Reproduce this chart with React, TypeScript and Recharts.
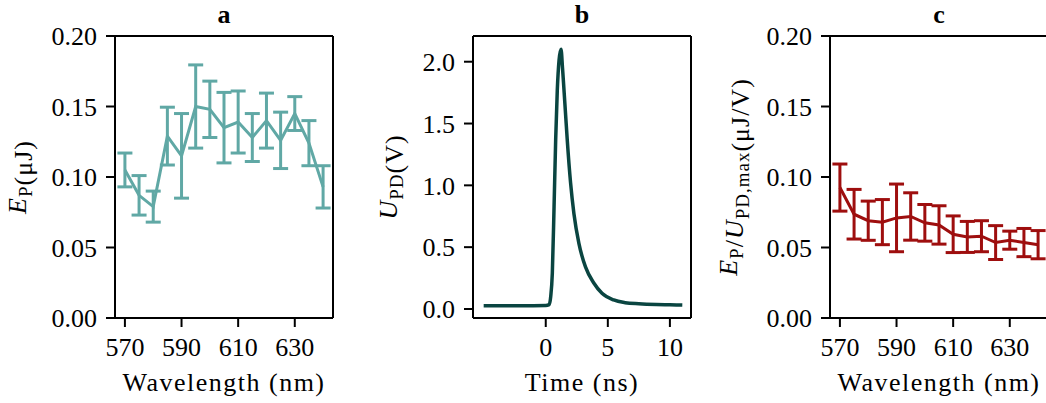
import React from 'react';
import {
  LineChart,
  Line,
  XAxis,
  YAxis,
  ErrorBar,
  ReferenceLine
} from 'recharts';

// Panel a / c: wavelength scan
const wavelengths = [570, 575, 580, 585, 590, 595, 600, 605, 610, 615, 620, 625, 630, 635, 640];
const pulseEnergy = [0.105, 0.087, 0.079, 0.129, 0.115, 0.150, 0.148, 0.135, 0.139, 0.128, 0.140, 0.126, 0.145, 0.124, 0.093];
const pulseEnergyErr = [0.012, 0.014, 0.011, 0.0205, 0.030, 0.0295, 0.020, 0.025, 0.022, 0.017, 0.0195, 0.020, 0.012, 0.016, 0.015];
const normEnergy = [0.0925, 0.0736, 0.069, 0.068, 0.071, 0.072, 0.0675, 0.066, 0.0594, 0.0575, 0.058, 0.0535, 0.0552, 0.0535, 0.052];
const normEnergyErr = [0.0167, 0.0176, 0.0139, 0.016, 0.024, 0.0168, 0.013, 0.0136, 0.013, 0.011, 0.011, 0.012, 0.0064, 0.010, 0.010];

// Panel b: photodiode trace
const time = [-5, -4, -3, -2, -1, 0, 0.27, 0.4, 0.53, 0.67, 0.8, 0.93, 1.07, 1.23, 1.35, 1.47, 1.6, 1.73, 2.0, 2.27, 2.67, 3.2, 3.87, 4.53, 5.47, 6.4, 7.5, 8.9, 10, 11];
const voltage = [0.027, 0.027, 0.027, 0.027, 0.027, 0.028, 0.035, 0.1, 0.29, 0.83, 1.37, 1.77, 2.01, 2.1, 1.95, 1.77, 1.57, 1.37, 1.02, 0.77, 0.53, 0.34, 0.21, 0.127, 0.073, 0.051, 0.042, 0.036, 0.034, 0.032];

const wlTicks = [570, 590, 610, 630];
const energyTicks = [0, 0.05, 0.1, 0.15, 0.2];
const timeTicks = [0, 5, 10];
const voltTicks = [0, 0.5, 1, 1.5, 2];

const FONT = '"Liberation Serif", "Times New Roman", serif';
const FS = 26;
const TEAL = '#60a8a5';
const RED = '#9e0e0e';
const GREEN = '#0a4541';

const WL_DOMAIN: [number, number] = [566.5, 643.5];
const E_DOMAIN: [number, number] = [0, 0.2];
const T_DOMAIN: [number, number] = [-5.86, 11.7];
const V_DOMAIN: [number, number] = [-0.073, 2.208];

const axisStroke = { stroke: '#000', strokeWidth: 2 };
const tickStyle = { fill: '#000', fontSize: FS, fontFamily: FONT };

const sub = (s: string) => (
  <>
    <tspan fontSize={19} dy={6}>{s}</tspan>
    <tspan dy={-6}></tspan>
  </>
);

const RotLabel = ({ x, y, children }: { x: number; y: number; children: React.ReactNode }) => (
  <text
    x={x}
    y={y}
    transform={`rotate(-90, ${x}, ${y})`}
    textAnchor="middle"
    fontFamily={FONT}
    fontSize={FS}
    fill="#000"
    letterSpacing={1}
  >
    {children}
  </text>
);

const xLabel = (text: string) => (props: any) => {
  const vb = props.viewBox;
  return (
    <text
      x={vb.x + vb.width / 2}
      y={vb.y + 73}
      textAnchor="middle"
      fontFamily={FONT}
      fontSize={FS}
      letterSpacing={1.5}
      fill="#000"
    >
      {text}
    </text>
  );
};

const Title = ({ left, text }: { left: number; text: string }) => (
  <div
    style={{
      position: 'absolute',
      left: left - 50,
      top: 2,
      width: 100,
      textAlign: 'center',
      fontFamily: FONT,
      fontWeight: 'bold',
      fontSize: FS,
      lineHeight: '25px'
    }}
  >
    {text}
  </div>
);

interface ScanPanelProps {
  values: number[];
  errors: number[];
  color: string;
  axisWidth: number;
  labelX: number;
  label: React.ReactNode;
}

const ScanPanel: React.FC<ScanPanelProps> = ({ values, errors, color, axisWidth, labelX, label }) => {
  const data = wavelengths.map((wl, i) => ({ wl, v: values[i], err: errors[i] }));
  return (
    <LineChart
      width={axisWidth + 225}
      height={403}
      data={data}
      margin={{ top: 36, right: 7, bottom: 0, left: 0 }}
    >
      <XAxis
        dataKey="wl"
        type="number"
        domain={WL_DOMAIN}
        ticks={wlTicks}
        allowDataOverflow
        height={85}
        tickSize={9}
        tickMargin={11}
        axisLine={axisStroke}
        tickLine={axisStroke}
        tick={tickStyle}
        label={{ content: xLabel('Wavelength (nm)') }}
      />
      <YAxis
        type="number"
        domain={E_DOMAIN}
        ticks={energyTicks}
        allowDataOverflow
        width={axisWidth}
        tickSize={9}
        tickMargin={9}
        axisLine={axisStroke}
        tickLine={axisStroke}
        tick={tickStyle}
        tickFormatter={(v: number) => v.toFixed(2)}
        label={{ content: () => <RotLabel x={labelX} y={177}>{label}</RotLabel> }}
      />
      <ReferenceLine y={E_DOMAIN[1]} stroke="#000" strokeWidth={2} />
      <ReferenceLine x={WL_DOMAIN[1]} stroke="#000" strokeWidth={2} />
      <Line
        dataKey="v"
        stroke={color}
        strokeWidth={3}
        dot={false}
        isAnimationActive={false}
      >
        <ErrorBar dataKey="err" direction="y" width={7.5} stroke={color} strokeWidth={3} isAnimationActive={false} />
      </Line>
    </LineChart>
  );
};

const TracePanel: React.FC = () => {
  const data = time.map((t, i) => ({ t, u: voltage[i] }));
  return (
    <LineChart
      width={360}
      height={403}
      data={data}
      margin={{ top: 36, right: 9, bottom: 0, left: 0 }}
    >
      <XAxis
        dataKey="t"
        type="number"
        domain={T_DOMAIN}
        ticks={timeTicks}
        allowDataOverflow
        height={85}
        tickSize={9}
        tickMargin={11}
        axisLine={axisStroke}
        tickLine={axisStroke}
        tick={tickStyle}
        label={{ content: xLabel('Time (ns)') }}
      />
      <YAxis
        type="number"
        domain={V_DOMAIN}
        ticks={voltTicks}
        allowDataOverflow
        width={133}
        tickSize={9}
        tickMargin={9}
        axisLine={axisStroke}
        tickLine={axisStroke}
        tick={tickStyle}
        tickFormatter={(v: number) => v.toFixed(1)}
        label={{
          content: () => (
            <RotLabel x={57} y={177}>
              <tspan fontStyle="italic">U</tspan>
              {sub('PD')}
              <tspan>(V)</tspan>
            </RotLabel>
          )
        }}
      />
      <ReferenceLine y={V_DOMAIN[1]} stroke="#000" strokeWidth={2} />
      <ReferenceLine x={T_DOMAIN[1]} stroke="#000" strokeWidth={2} />
      <Line
        dataKey="u"
        type="monotone"
        stroke={GREEN}
        strokeWidth={3.5}
        dot={false}
        isAnimationActive={false}
      />
    </LineChart>
  );
};

export default function App() {
  return (
    <div
      style={{
        position: 'absolute',
        left: 0,
        top: 0,
        width: 1046,
        height: 403,
        overflow: 'hidden',
        background: '#fff'
      }}
    >
      <div style={{ position: 'absolute', left: 0, top: 0 }}>
        <ScanPanel
          values={pulseEnergy}
          errors={pulseEnergyErr}
          color={TEAL}
          axisWidth={115}
          labelX={26}
          label={
            <>
              <tspan fontStyle="italic">E</tspan>
              {sub('P')}
              <tspan>(μJ)</tspan>
            </>
          }
        />
      </div>
      <div style={{ position: 'absolute', left: 340, top: 0 }}>
        <TracePanel />
      </div>
      <div style={{ position: 'absolute', left: 690, top: 0 }}>
        <ScanPanel
          values={normEnergy}
          errors={normEnergyErr}
          color={RED}
          axisWidth={140}
          labelX={47}
          label={
            <>
              <tspan fontStyle="italic">E</tspan>
              {sub('P')}
              <tspan>/</tspan>
              <tspan fontStyle="italic">U</tspan>
              {sub('PD,max')}
              <tspan>(μJ/V)</tspan>
            </>
          }
        />
      </div>
      <Title left={224} text="a" />
      <Title left={582} text="b" />
      <Title left={939} text="c" />
    </div>
  );
}
